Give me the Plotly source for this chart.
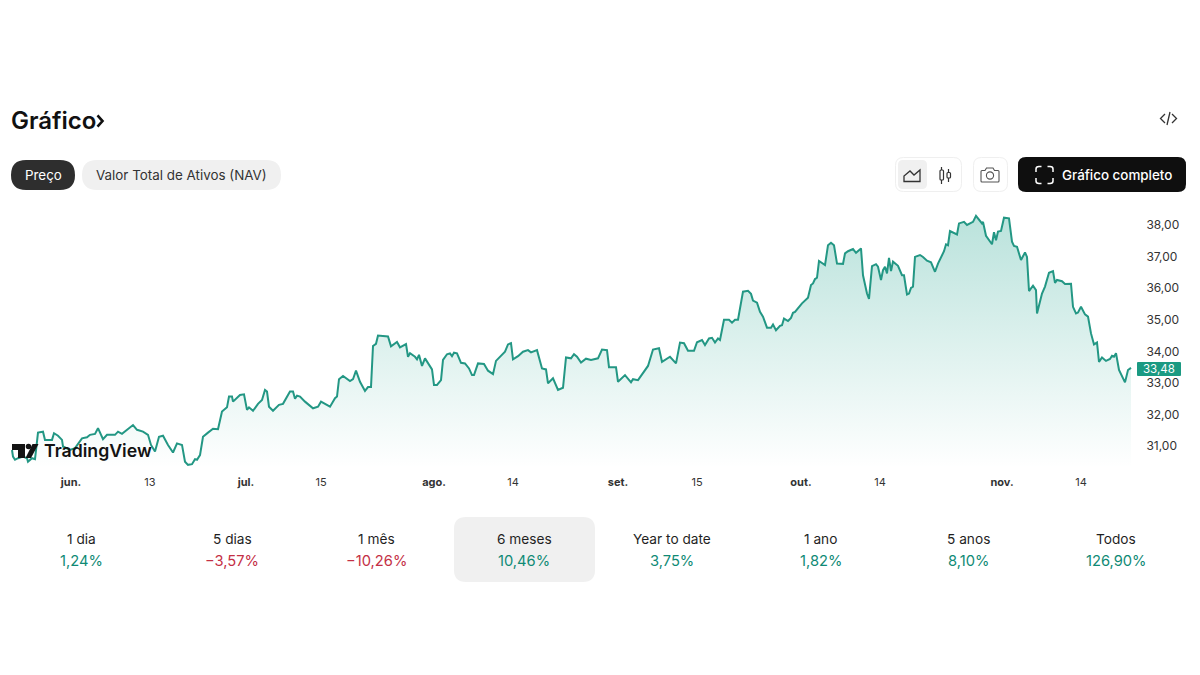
import plotly.graph_objects as go

# ---- data: bar number on the time axis and price ----
bars = [1,2,4,7,12,16,17,21,24,26,27,32,34,41,43,47,51,52,59,64,67,71,76,79,84,87,92,96,104,107,111,117,122,126,132,137,140,144,148,152,157,162,166,171,174,177,181,184,186,189,192,197,202,207,211,216,218,221,222,229,233,236,238,242,247,251,254,256,258,262,268,272,279,282,284,286,289,294,302,307,310,319,324,326,328,332,339,342,345,349,354,357,360,362,365,367,377,380,386,389,395,397,399,404,406,408,411,414,419,421,423,426,430,432,436,439,441,443,446,450,454,458,461,463,467,473,477,481,482,485,489,494,497,500,502,507,512,517,520,526,531,535,537,542,547,552,555,560,563,566,570,575,580,587,591,596,598,605,607,614,620,622,627,632,637,642,648,651,659,665,669,673,677,683,686,691,694,698,701,704,707,709,713,718,721,724,727,732,737,740,742,746,749,752,756,760,762,765,769,771,773,777,780,782,784,791,797,800,802,804,806,808,814,817,820,823,826,832,834,837,842,845,850,852,856,858,861,865,867,870,872,874,876,878,880,882,887,891,893,896,898,900,902,904,909,912,916,920,924,927,931,933,935,937,939,946,948,953,956,962,965,971,972,975,981,983,985,987,990,993,998,1001,1003,1006,1010,1014,1016,1018,1022,1025,1026,1031,1034,1038,1042,1044,1046,1051,1054,1060,1062,1065,1067,1070,1074,1077,1080,1083,1086,1088,1091,1095,1099,1101,1103,1105,1108,1111,1114,1117,1120]
prices = [30.88,30.67,30.57,30.62,30.67,30.62,30.51,30.62,30.59,31.20,31.43,31.46,31.20,31.20,31.41,31.33,31.20,30.99,30.88,30.94,31.09,31.25,31.28,31.36,31.39,31.57,31.22,31.36,31.36,31.46,31.39,31.54,31.67,31.52,31.46,31.36,31.04,30.83,31.30,31.33,31.04,30.80,31.09,31.04,30.51,30.41,30.43,30.59,30.57,30.72,31.30,31.43,31.55,31.54,32.10,32.23,32.57,32.57,32.41,32.62,32.64,32.15,32.23,32.12,32.34,32.46,32.78,32.73,32.25,32.12,32.31,32.34,32.73,32.73,32.50,32.60,32.57,32.41,32.20,32.25,32.41,32.25,32.52,32.57,33.12,33.22,33.06,33.12,33.39,33.04,32.75,32.87,32.87,34.17,34.24,34.50,34.47,34.16,34.30,34.13,34.23,33.83,33.94,33.83,33.75,33.89,33.54,33.78,33.50,33.43,32.94,32.94,33.09,33.73,33.91,33.94,33.85,33.96,33.94,33.64,33.62,33.46,33.25,33.25,33.62,33.60,33.39,33.28,33.28,33.70,33.83,33.99,34.22,34.26,33.75,33.85,33.99,34.04,33.97,34.04,33.46,33.43,32.99,33.15,32.78,32.85,33.81,33.78,33.91,33.83,33.65,33.77,33.73,33.78,34.06,34.04,33.50,33.50,33.04,33.25,33.02,33.12,33.09,33.31,33.54,34.06,34.10,33.67,33.83,33.62,34.28,34.26,34.02,34.02,34.29,34.36,34.20,34.41,34.43,34.28,34.41,34.36,35.00,35.00,34.91,35.00,35.00,35.89,35.92,35.82,35.61,35.54,35.25,35.10,34.75,34.75,34.85,34.67,34.81,34.83,35.04,34.96,35.06,35.22,35.25,35.52,35.70,36.10,36.15,36.29,36.33,36.86,36.73,37.36,37.44,37.36,36.78,36.77,37.10,37.17,37.24,37.12,37.26,36.41,35.83,35.66,36.70,36.76,36.68,36.26,36.57,36.68,36.47,36.96,36.54,36.84,36.71,36.41,36.41,35.80,35.83,36.01,36.05,36.99,37.05,36.99,36.87,36.82,36.52,36.78,37.05,37.17,37.39,37.36,37.81,37.70,38.05,38.10,38.00,38.10,38.29,38.05,38.10,37.66,37.39,37.77,37.52,37.79,37.81,38.23,38.21,37.47,37.34,37.31,36.89,37.13,36.99,35.91,36.08,35.94,35.20,35.83,36.05,36.49,36.54,36.17,36.26,36.22,36.13,36.14,35.41,35.20,35.23,35.41,35.17,35.10,34.57,34.22,34.28,33.67,33.81,33.70,33.76,33.86,33.83,33.94,33.41,33.20,33.02,33.41,33.48]

x_tick_bars = [60,139,235,310,423,502,607,686,790,869,991,1070]
x_tick_labels = ["<b>jun.</b>","13","<b>jul.</b>","15","<b>ago.</b>","14","<b>set.</b>","15","<b>out.</b>","14","<b>nov.</b>","14"]
y_ticks = [31,32,33,34,35,36,37,38]

stat_labels = ["1 dia","5 dias","1 mês","6 meses","Year to date","1 ano","5 anos","Todos"]
stat_values = ["1,24%","−3,57%","−10,26%","10,46%","3,75%","1,82%","8,10%","126,90%"]
stat_centers = [81,232,376.5,524,672,820.5,968,1116]

FONT = "Inter"
INK = "#1f1f1f"
GREEN = "#0f8a75"
RED = "#c42f45"
LINE = "#239784"

W, H = 1200, 675
px = lambda x: x / W
py = lambda y: 1 - y / H

def P(cmds):
    """Build an SVG path in paper coordinates from pixel commands."""
    out = []
    for c in cmds:
        if len(c) == 1:
            out.append(c[0])
        else:
            nums = c[1:]
            pts = [f"{px(nums[i]):.5f},{py(nums[i+1]):.5f}" for i in range(0, len(nums), 2)]
            out.append(c[0] + " " + " ".join(pts))
    return " ".join(out)

def rrect(x0, y0, x1, y1, r, fill="rgba(0,0,0,0)", line=None, lw=1):
    return dict(type="path", xref="paper", yref="paper", fillcolor=fill,
                line=dict(color=line or "rgba(0,0,0,0)", width=lw if line else 0),
                path=P([("M",x0+r,y0),("L",x1-r,y0),("Q",x1,y0,x1,y0+r),("L",x1,y1-r),("Q",x1,y1,x1-r,y1),
                        ("L",x0+r,y1),("Q",x0,y1,x0,y1-r),("L",x0,y0+r),("Q",x0,y0,x0+r,y0),("Z",)]))

def stroke(cmds, color, lw=1.5, fill="rgba(0,0,0,0)"):
    return dict(type="path", xref="paper", yref="paper", fillcolor=fill,
                line=dict(color=color, width=lw), path=P(cmds))

def solid(cmds, color):
    return dict(type="path", xref="paper", yref="paper", fillcolor=color,
                line=dict(color="rgba(0,0,0,0)", width=0), path=P(cmds))

def circle(cx, cy, r, color=None, fill="rgba(0,0,0,0)", lw=1.3):
    return dict(type="circle", xref="paper", yref="paper", x0=px(cx-r), x1=px(cx+r), y0=py(cy+r), y1=py(cy-r),
                fillcolor=fill, line=dict(color=color or "rgba(0,0,0,0)", width=lw if color else 0))

def label(text, x, y, size=14, color=INK, anchor="center", weight=None):
    font = dict(family=FONT, size=size, color=color)
    if weight:
        font["weight"] = weight
    return dict(text=text, x=px(x), y=py(y), xref="paper", yref="paper", showarrow=False,
                xanchor=anchor, yanchor="middle", font=font, borderpad=0, borderwidth=0)

shapes = [
    rrect(454,517,595,582,12,fill="#f0f0f0"),
    rrect(11,160,75,190,15,fill="#2e2e2e"),
    rrect(82,160,281,190,15,fill="#f0f0f0"),
    rrect(895.5,157.5,961.5,191.5,8,fill="#ffffff",line="#efefef"),
    rrect(898,160,927,189,5,fill="#f0f0f0"),
    rrect(973.5,157.5,1007.5,191.5,8,fill="#ffffff",line="#efefef"),
    rrect(1018,157,1186,192,8,fill="#0f0f0f"),
    # area icon
    stroke([("M",904,181.5),("L",904,176),("L",910,171),("L",914,175),("L",920,170),("L",920,181.5),("Z",)],"#333333",1.3),
    # candle icon
    stroke([("M",941.5,167),("L",941.5,184)],"#333333",1.2),
    rrect(940,170,943.5,180,1,fill="#ffffff",line="#333333",lw=1.2),
    stroke([("M",948.5,169),("L",948.5,182)],"#333333",1.2),
    rrect(947,172.5,950.5,178,1,fill="#ffffff",line="#333333",lw=1.2),
    # camera icon
    stroke([("M",982,170.5),("L",985,170.5),("L",986.5,168),("L",993,168),("L",994.5,170.5),("L",998,170.5),
            ("Q",999,170.5,999,171.5),("L",999,181),("Q",999,182,998,182),("L",982,182),("Q",981,182,981,181),
            ("L",981,171.5),("Q",981,170.5,982,170.5),("Z",)],"#555555",1.1),
    circle(990,175.5,3.6,color="#555555",lw=1.1),
    # full-screen corners
    stroke([("M",1036,172),("L",1036,169),("Q",1036,166.5,1039,166.5),("L",1041.5,166.5)],"#ffffff",1.5),
    stroke([("M",1047.5,166.5),("L",1050,166.5),("Q",1053,166.5,1053,169),("L",1053,172)],"#ffffff",1.5),
    stroke([("M",1053,178),("L",1053,181),("Q",1053,183.5,1050,183.5),("L",1047.5,183.5)],"#ffffff",1.5),
    stroke([("M",1041.5,183.5),("L",1039,183.5),("Q",1036,183.5,1036,181),("L",1036,178)],"#ffffff",1.5),
    # embed icon
    stroke([("M",1165,114),("L",1160.5,118.5),("L",1165,123)],"#333333",1.3),
    stroke([("M",1170,112),("L",1167,125)],"#333333",1.3),
    stroke([("M",1172,114),("L",1176.5,118.5),("L",1172,123)],"#333333",1.3),
    # title chevron
    stroke([("M",97.5,115.5),("L",102.5,121),("L",97.5,126.5)],"#111111",2.6),
    # TradingView mark
    solid([("M",12,444),("L",25,444),("L",25,458),("L",18,458),("L",18,450),("L",12,450),("Z",)],"#131313"),
    circle(28.5,446.5,2.8,fill="#131313"),
    solid([("M",32.5,444),("L",38.5,444),("L",31,458),("L",25.5,458),("Z",)],"#131313"),
    # last price tag
    rrect(1137,362,1181,376,1,fill="#1b9a82"),
]

annotations = [
    label("Gráfico",11,120,size=24,color="#111111",anchor="left",weight=600),
    label("Preço",43,175,size=13.4,color="#ffffff"),
    label("Valor Total de Ativos (NAV)",181,175,size=13.4,color="#333333"),
    label("Gráfico completo",1116.5,175,size=13.4,color="#ffffff",weight=500),
    label("TradingView",44,450.5,size=17.7,color="#131313",anchor="left",weight=600),
    label(f"{prices[-1]:.2f}".replace(".",","),1159,369,size=11.5,color="#ffffff"),
]
for name, val, cx in zip(stat_labels, stat_values, stat_centers):
    annotations.append(label(name,cx,539,size=13.7,color=INK))
    annotations.append(label(val,cx,560.5,size=14.7,color=RED if val.startswith("−") else GREEN))

TOP, BOTTOM = 205, 468
y_hi = 38 - (TOP-225)/31.6
y_lo = 38 - (BOTTOM-225)/31.6

fig = go.Figure()
fig.add_trace(go.Scatter(x=bars, y=[y_lo]*len(bars), mode="lines", line=dict(width=0),
                         hoverinfo="skip", showlegend=False))
fig.add_trace(go.Scatter(x=bars, y=prices, mode="lines", fill="tonexty",
                         line=dict(color=LINE, width=2),
                         fillgradient=dict(type="vertical",
                                           colorscale=[[0,"rgba(8,153,129,0)"],[1,"rgba(8,153,129,0.28)"]],
                                           start=y_lo, stop=38.3),
                         showlegend=False))

fig.update_layout(
    width=W, height=H, margin=dict(l=0,r=0,t=0,b=0), paper_bgcolor="#ffffff", plot_bgcolor="#ffffff",
    separators=",.", font=dict(family=FONT, size=11, color="#333333"), showlegend=False,
    shapes=shapes, annotations=annotations,
    xaxis=dict(domain=[0,1134/W], range=[-11,1123], tickmode="array", tickvals=x_tick_bars, ticktext=x_tick_labels,
               showgrid=False, zeroline=False, showline=False, ticks="outside", ticklen=4, tickcolor="rgba(0,0,0,0)",
               tickfont=dict(family=FONT,size=11,color="#333333")),
    yaxis=dict(domain=[py(BOTTOM),py(TOP)], range=[y_lo,y_hi], side="right", tickmode="array", tickvals=y_ticks,
               tickformat=".2f", showgrid=False, zeroline=False, showline=False, ticks="outside", ticklen=9,
               tickcolor="rgba(0,0,0,0)", tickfont=dict(family=FONT,size=12,color="#333333")),
)

fig.write_html("out.html", post_script="document.body.style.margin='0';", config={"displayModeBar": False})
